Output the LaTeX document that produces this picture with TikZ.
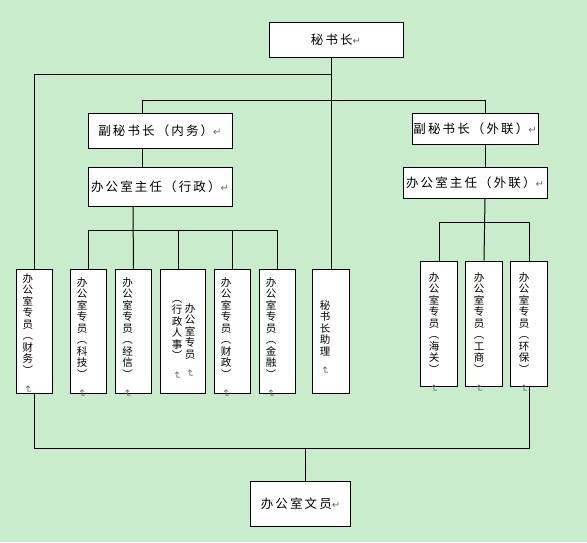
\documentclass[tikz,border=0pt]{standalone}
\usepackage{fontspec}
\usepackage{graphicx}
\newfontfamily\cjk[LetterSpace=17]{Noto Sans CJK SC}
\newfontfamily\cjkv{Noto Sans CJK SC}
\newfontfamily\dvs{DejaVu Sans}
\definecolor{bg}{RGB}{200,236,204}
\definecolor{retgray}{RGB}{110,110,110}
\newcommand\retmark{{\dvs\fontsize{10}{10}\selectfont\textcolor{retgray}{↵}}}
\newcommand\vretmark{\rotatebox{-90}{\retmark}}
\tikzset{
  boxed/.style={draw=black, fill=white, line width=1pt, inner sep=0pt},
  hbox/.style={boxed, font=\cjk\fontsize{12.5}{14}\selectfont},
  vbox/.style={boxed, minimum width=36.5pt},
  vtxt/.style={align=center, inner sep=0pt, anchor=north, font=\cjkv\fontsize{10.5}{11.5}\selectfont},
  conn/.style={draw=black, line width=1pt}
}
\begin{document}
\begin{tikzpicture}[x=1pt, y=-1pt]
\fill[bg] (0,0) rectangle (587,542);
\useasboundingbox (0,0) rectangle (587,542);

% boxes
\node[hbox, minimum width=134pt, minimum height=35pt] (sec) at (336,39.5) {秘书长\retmark};
\node[hbox, minimum width=144pt, minimum height=35pt] (dep1) at (160,130.5) {副秘书长（内务）\retmark};
\node[hbox, minimum width=144pt, minimum height=39pt] (dir1) at (160,186.5) {办公室主任（行政）\retmark};
\node[hbox, minimum width=126pt, minimum height=31pt] (dep2) at (475,128.5) {副秘书长（外联）\retmark};
\node[hbox, minimum width=144pt, minimum height=31pt] (dir2) at (475,182.5) {办公室主任（外联）\retmark};
\node[hbox, minimum width=99.5pt, minimum height=44.5pt] (clerk) at (300.5,504) {办公室文员\retmark};

\node[vbox, minimum height=124pt] (s1) at (34.5,331) {};
\node[vbox, minimum height=124pt] (s2) at (88.5,331) {};
\node[vbox, minimum height=124pt] (s3) at (133.5,331) {};
\node[vbox, minimum height=124pt, minimum width=45pt] (s4) at (182.5,331) {};
\node[vbox, minimum height=124pt] (s5) at (232.5,331) {};
\node[vbox, minimum height=124pt] (s6) at (277.5,331) {};
\node[vbox, minimum height=124pt] (asst) at (331,331) {};
\node[vbox, minimum height=125pt] (s7) at (439,323.5) {};
\node[vbox, minimum height=125pt] (s8) at (484,323.5) {};
\node[vbox, minimum height=125pt] (s9) at (529,323.5) {};

% vertical texts
\node[vtxt] (t1) at (28,273) {办\\公\\室\\专\\员\\︵\\财\\务\\︶\\\vretmark};
\node[vtxt] (t2) at (82,277) {办\\公\\室\\专\\员\\︵\\科\\技\\︶\\\vretmark};
\node[vtxt] (t3) at (127.5,277) {办\\公\\室\\专\\员\\︵\\经\\信\\︶\\\vretmark};
\node[vtxt] (t4a) at (190,303) {办\\公\\室\\专\\员\\\vretmark};
\node[vtxt] (t4b) at (177,300) {︵\\行\\政\\人\\事\\︶\\\vretmark};
\node[vtxt] (t5) at (226,277) {办\\公\\室\\专\\员\\︵\\财\\政\\︶\\\vretmark};
\node[vtxt] (t6) at (271,277) {办\\公\\室\\专\\员\\︵\\金\\融\\︶\\\vretmark};
\node[vtxt] (ta) at (325,300) {秘\\书\\长\\助\\理\\\vretmark};
\node[vtxt] (t7) at (434,272) {办\\公\\室\\专\\员\\︵\\海\\关\\︶\\\vretmark};
\node[vtxt] (t8) at (479,272) {办\\公\\室\\专\\员\\︵\\工\\商\\︶\\\vretmark};
\node[vtxt] (t9) at (524,272) {办\\公\\室\\专\\员\\︵\\环\\保\\︶\\\vretmark};

% junction coordinates
\coordinate (j1) at (331,74.5);
\coordinate (b1) at (142.7,100);
\coordinate (b2) at (485,100);
\coordinate (h1) at (133,230);
\coordinate (x4) at (178,230);
\coordinate (h2) at (485,222);
\coordinate (h3) at (305,448);

% connectors
\draw[conn] (asst.north |- sec.south) -- (asst.north);
\draw[conn] (j1) -| (s1.north);
\draw[conn] (dep1.north -| b1) -- (b1) -- (b2) -- (dep2.north -| b2);
\draw[conn] (dep1.south -| b1) -- (dir1.north -| b1);
\draw[conn] (dep2.south -| b2) -- (dir2.north -| b2);
\draw[conn] (dir1.south -| h1) -- (s3.north);
\draw[conn] (s2.north) -- (s2.north |- h1) -- (s6.north |- h1) -- (s6.north);
\draw[conn] (x4) -- (s4.north -| x4);
\draw[conn] (s5.north |- h1) -- (s5.north);
\draw[conn] (dir2.south -| h2) -- (s8.north);
\draw[conn] (s7.north) -- (s7.north |- h2) -- (s9.north |- h2) -- (s9.north);
\draw[conn] (s1.south) -- (s1.south |- h3) -- (s9.south |- h3) -- (s9.south);
\draw[conn] (h3) -- (clerk.north -| h3);
\end{tikzpicture}
\end{document}
